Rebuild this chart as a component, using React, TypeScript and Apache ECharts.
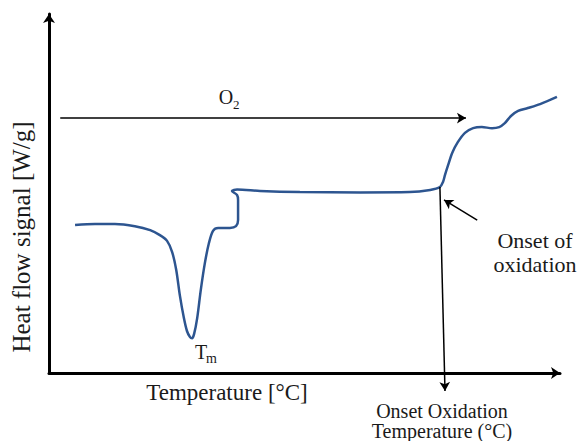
import React, { useEffect, useRef } from "react";
import * as echarts from "echarts";

// Temperature (arbitrary units, 0–100 along the axis)
const temperature = [
  5.1, 9.0, 12.9, 16.8, 19.8, 21.7, 23.1, 24.1, 24.9, 25.6, 26.4, 27.0, 27.6, 28.0, 28.4,
  29.0, 29.7, 30.5, 31.3, 32.1, 33.1, 35.4, 36.6, 37.0, 37.0, 36.8, 35.8, 36.8, 41.3, 49.1,
  60.9, 70.6, 74.6, 76.5, 77.1, 77.5, 78.1, 78.9, 80.0, 81.4, 83.0, 84.7, 86.7, 88.1, 89.2,
  90.4, 91.8, 93.7, 96.1, 99.4,
];
// Heat flow signal (arbitrary units, 0–100)
const heatFlow = [
  41.2, 41.5, 41.5, 40.9, 39.8, 38.4, 36.8, 33.7, 28.7, 21.7, 15.3, 11.7, 10.0, 9.7, 10.9,
  15.3, 23.1, 30.6, 36.2, 39.6, 40.4, 40.4, 40.9, 42.6, 48.2, 49.6, 50.7, 51.1, 50.7, 50.4,
  50.3, 50.4, 51.0, 51.8, 53.2, 55.2, 57.9, 61.3, 64.3, 66.9, 68.2, 68.5, 68.2, 68.5, 69.6,
  71.6, 73.0, 73.8, 74.9, 76.9,
];

const xTitle = "Temperature [°C]";
const yTitle = "Heat flow signal [W/g]";
const onsetPoint = [76.5, 51.8];
const o2Start = [2.2, 71.0];
const o2End = [81.6, 71.0];
const pointerStart = [83.8, 42.6];
const pointerEnd = [77.3, 48.2];

const FONT = "'Liberation Serif', 'Times New Roman', serif";
const TXT = "#1a1a1a";

export default function App() {
  const ref = useRef<HTMLDivElement>(null);
  useEffect(() => {
    const chart = echarts.init(ref.current!, null, { renderer: "svg" });
    const data = temperature.map((t, i) => [t, heatFlow[i]]);
    const axisCommon = {
      type: "value",
      min: 0,
      max: 100,
      axisLabel: { show: false },
      axisTick: { show: false },
      splitLine: { show: false },
      axisLine: {
        show: true,
        symbol: ["none", "arrow"],
        symbolSize: [9, 9],
        lineStyle: { color: "#000", width: 3 },
      },
    };
    chart.setOption({
      animation: false,
      backgroundColor: "#fff",
      grid: { left: 49, right: 19, top: 14, bottom: 68 },
      xAxis: { ...axisCommon },
      yAxis: { ...axisCommon },
      series: [
        {
          type: "line",
          data,
          smooth: 0.3,
          showSymbol: false,
          symbol: "none",
          lineStyle: { color: "#2d5590", width: 2.5 },
          markLine: {
            silent: true,
            symbol: ["none", "arrow"],
            symbolSize: [8, 9],
            label: { show: false },
            lineStyle: { color: "#000", width: 1.5, type: "solid" },
            data: [
              [{ coord: o2Start }, { coord: o2End }],
              [{ coord: onsetPoint }, { x: 445, y: 391 }],
              [{ coord: pointerStart }, { coord: pointerEnd }],
            ],
          },
        },
      ],
      graphic: [
        {
          type: "text",
          style: { x: 227, y: 392, text: xTitle, font: `23px ${FONT}`, fill: TXT, textAlign: "center", textVerticalAlign: "middle" },
        },
        {
          type: "text",
          x: 21,
          y: 237,
          rotation: Math.PI / 2,
          style: { x: 0, y: 0, text: yTitle, font: `25px ${FONT}`, fill: TXT, textAlign: "center", textVerticalAlign: "middle" },
        },
        {
          type: "text",
          style: { x: 201, y: 352, text: "T", font: `20px ${FONT}`, fill: TXT, textAlign: "center", textVerticalAlign: "middle" },
        },
        {
          type: "text",
          style: { x: 206, y: 358, text: "m", font: `14px ${FONT}`, fill: TXT, textAlign: "left", textVerticalAlign: "middle" },
        },
        {
          type: "text",
          style: { x: 226, y: 97, text: "O", font: `20px ${FONT}`, fill: TXT, textAlign: "center", textVerticalAlign: "middle" },
        },
        {
          type: "text",
          style: { x: 233, y: 104, text: "2", font: `13px ${FONT}`, fill: TXT, textAlign: "left", textVerticalAlign: "middle" },
        },
        {
          type: "text",
          style: { x: 535, y: 240, text: "Onset of", font: `22px ${FONT}`, fill: TXT, textAlign: "center", textVerticalAlign: "middle" },
        },
        {
          type: "text",
          style: { x: 535, y: 264, text: "oxidation", font: `22px ${FONT}`, fill: TXT, textAlign: "center", textVerticalAlign: "middle" },
        },
        {
          type: "text",
          style: { x: 442, y: 411, text: "Onset Oxidation", font: `20px ${FONT}`, fill: TXT, textAlign: "center", textVerticalAlign: "middle" },
        },
        {
          type: "text",
          style: { x: 442, y: 431, text: "Temperature (°C)", font: `20px ${FONT}`, fill: TXT, textAlign: "center", textVerticalAlign: "middle" },
        },
      ],
    });
    return () => chart.dispose();
  }, []);
  return <div ref={ref} style={{ position: "fixed", left: 0, top: 0, width: 579, height: 441 }} />;
}
